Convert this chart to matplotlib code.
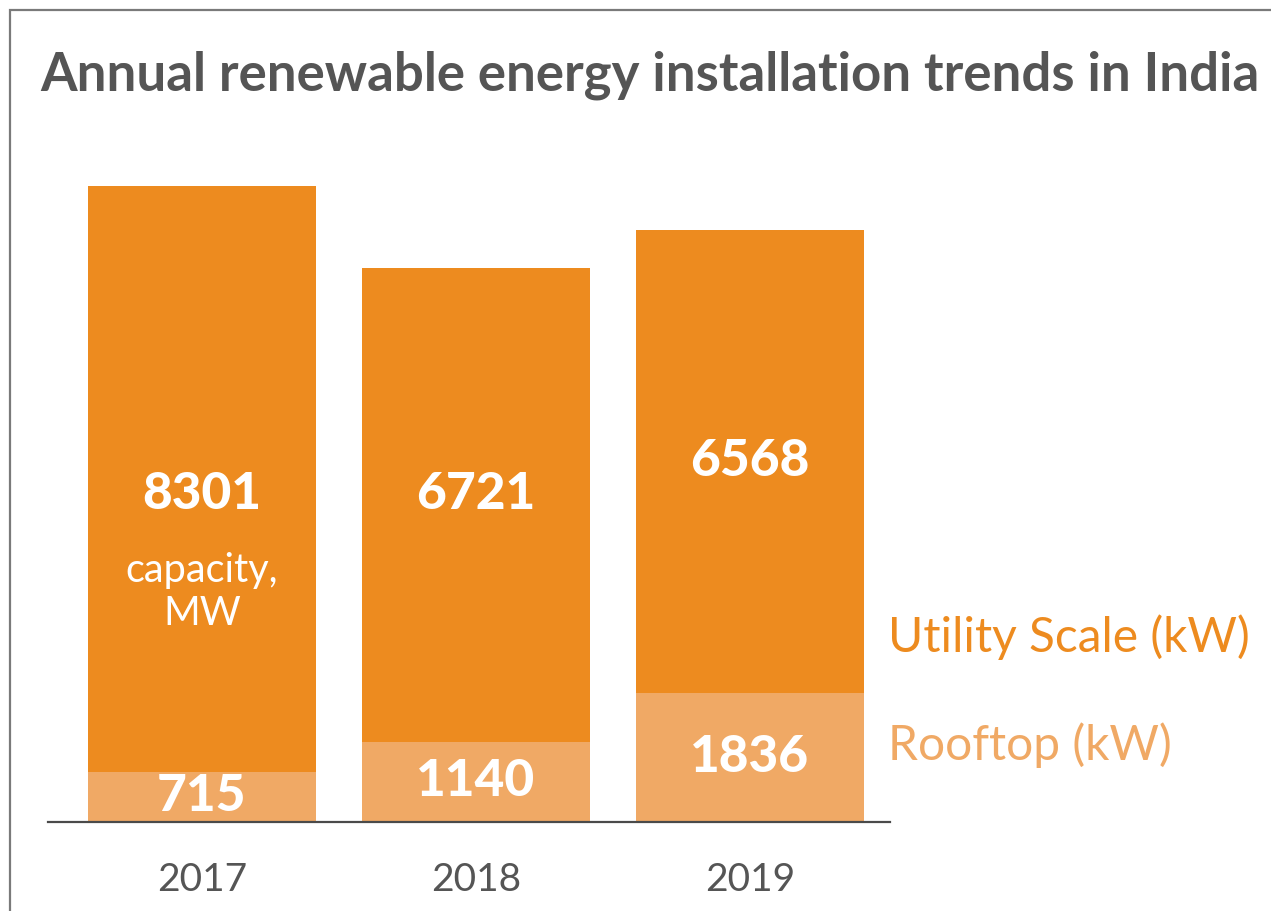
import matplotlib
matplotlib.use('Agg')
import matplotlib.pyplot as plt
import numpy as np
from matplotlib.patches import Rectangle

plt.rcParams['font.family'] = ['Lato', 'DejaVu Sans']

# data
years = ['2017', '2018', '2019']
rooftop = [715, 1140, 1836]
utility = [8301, 6721, 6568]
title = 'Annual renewable energy installation trends in India'

c_util = '#ED8B1F'
c_roof = '#F0A965'
c_text = '#555555'

W, H = 1271, 911
fig = plt.figure(figsize=(W / 100, H / 100), dpi=100)

# grey frame open to the right and bottom
fig.patches.append(Rectangle((10 / W, -0.1), 1.2, 1 - 10 / H + 0.1,
                             transform=fig.transFigure, fill=False,
                             edgecolor='#7a7a7a', linewidth=1.6))

# axes: baseline at y=822 px, x from 48 to 890 px
ymax = 9500
px_per_unit = 0.0705
ax_h = ymax * px_per_unit
ax = fig.add_axes([48 / W, (H - 822) / H, (890 - 48) / W, ax_h / H])
X = np.arange(len(years))
ax.bar(X, rooftop, width=0.832, color=c_roof)
ax.bar(X, utility, width=0.832, bottom=rooftop, color=c_util)
ax.set_xlim(-0.562, 2.511)
ax.set_ylim(0, ymax)

for s in ['top', 'right', 'left']:
    ax.spines[s].set_visible(False)
ax.spines['bottom'].set_color('#4a4a4a')
ax.spines['bottom'].set_linewidth(1.6)
ax.set_yticks([])
ax.set_xticks(X)
ax.set_xticklabels(years, fontsize=28, color=c_text)
ax.tick_params(axis='x', length=0, pad=29)

for i in range(len(years)):
    ax.text(X[i], rooftop[i] / 2, str(rooftop[i]), ha='center', va='center',
            fontsize=37, fontweight='black', color='white')
    ymid = rooftop[i] + utility[i] / 2
    if i == 0:
        ymid = ymid - 220
    elif i == 1:
        ymid = ymid + 150
    ax.text(X[i], ymid, str(utility[i]), ha='center', va='center',
            fontsize=37, fontweight='black', color='white')

ax.text(X[0], rooftop[0] + utility[0] / 2 - 1600, 'capacity,\nMW', ha='center',
        va='center', fontsize=28.5, color='white', linespacing=1.2)

# legend text at the right
fig.text(888 / W, 1 - 637 / H, 'Utility Scale (kW)', fontsize=34.5, color=c_util,
         va='center', ha='left')
fig.text(888 / W, 1 - 745 / H, 'Rooftop (kW)', fontsize=34.5, color=c_roof,
         va='center', ha='left')

fig.text(40 / W, 1 - 75 / H, title, fontsize=38, fontweight='bold', color=c_text,
         va='center', ha='left')

fig.savefig('out.png', dpi=100)
